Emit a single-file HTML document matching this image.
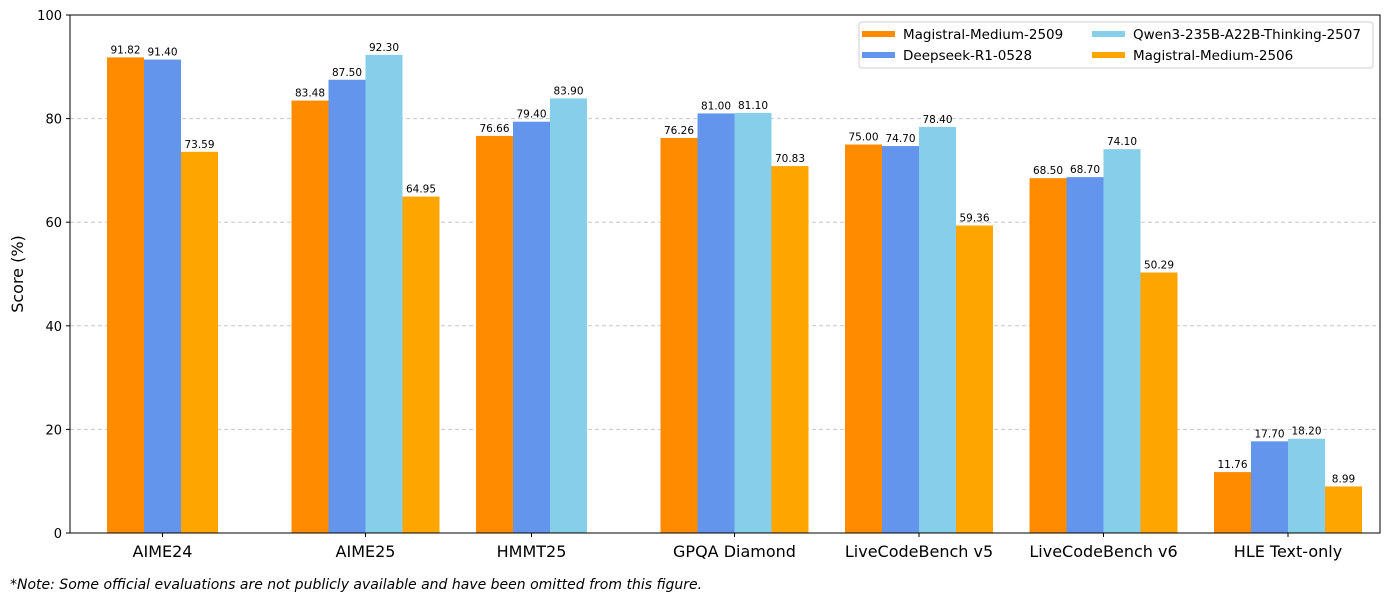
<!DOCTYPE html>
<html><head><meta charset="utf-8"><style>
body{margin:0;background:#fff;font-family:"Liberation Sans","DejaVu Sans",sans-serif}
svg text{font-family:"DejaVu Sans","Liberation Sans",sans-serif}
</style></head><body>
<svg id="c" width="1389" height="601" xmlns="http://www.w3.org/2000/svg"></svg>
<script>
const categories=["AIME24","AIME25","HMMT25","GPQA Diamond","LiveCodeBench v5","LiveCodeBench v6","HLE Text-only"];
const seriesNames=["Magistral-Medium-2509","Deepseek-R1-0528","Qwen3-235B-A22B-Thinking-2507","Magistral-Medium-2506"];
const mm2509=[91.82,83.48,76.66,76.26,75.00,68.50,11.76];
const dsr1=[91.40,87.50,79.40,81.00,74.70,68.70,17.70];
const qwen=[null,92.30,83.90,81.10,78.40,74.10,18.20];
const mm2506=[73.59,64.95,null,70.83,59.36,50.29,8.99];
const yTicks=[0,20,40,60,80,100];
const colors=["#ff8c00","#6495ed","#87ceeb","#ffa500"];
const NS="http://www.w3.org/2000/svg",svg=document.getElementById('c');
const L=70,R=1380,T=15,B=533,bw=37,gap=184.5,g0=107;
const y=v=>B-(v/100)*(B-T);
function el(t,a,p){const e=document.createElementNS(NS,t);for(const k in a)e.setAttribute(k,a[k]);(p||svg).appendChild(e);return e;}
yTicks.forEach(v=>{
 if(v>0&&v<100){const g=el('line',{x1:L,x2:R,y1:y(v),y2:y(v),stroke:'#c8c8c8','stroke-dasharray':'4,3','stroke-width':1});
 
 }
 const tk=el('line',{x1:L-4,x2:L,y1:y(v),y2:y(v),stroke:'#000'});
 
 
 const t=el('text',{x:L-8,y:y(v)+5,'text-anchor':'end','font-size':13});t.textContent=v;
 
 
});
const all=[mm2509,dsr1,qwen,mm2506];
categories.forEach((c,i)=>{
 let x=g0+i*gap,xs=[];
 all.forEach((s,si)=>{
  const v=s[i]; if(v==null)return;
  const r=el('rect',{x:x,y:y(v),width:bw,height:B-y(v),fill:colors[si]});
  
  
  const t=el('text',{x:x+bw/2,y:y(v)-4,'text-anchor':'middle','font-size':10.5});t.textContent=v.toFixed(2);
  
  
  xs.push(x+bw/2);x+=bw;
 });
 const cx=xs.reduce((a,b)=>a+b,0)/xs.length;
 const tk=el('line',{x1:cx,x2:cx,y1:B,y2:B+4,stroke:'#000'});
 
 
 const t=el('text',{x:cx,y:B+24,'text-anchor':'middle','font-size':16});t.textContent=c;
 
 
});
const fr=el('rect',{x:L,y:T,width:R-L,height:B-T,fill:'none',stroke:'#000','stroke-width':1});


const yt=el('text',{x:0,y:0,transform:'translate(23,274) rotate(-90)','text-anchor':'middle','font-size':16});yt.textContent='Score (%)';


const lg=el('g',{});


el('rect',{x:859,y:22,width:514,height:46,rx:3,fill:'#fff','fill-opacity':0.8,stroke:'#ccc'},lg);
const pos=[[862,34],[862,55],[1092,34],[1092,55]];
seriesNames.forEach((n,i)=>{
 const[px,py]=pos[i];
 const e=el('g',{},lg);
 
 
 el('rect',{x:px,y:py-3,width:33,height:6,fill:colors[i]},e);
 const t=el('text',{x:px+41,y:py+5,'font-size':13.5},e);t.textContent=n;
});
const note=el('text',{x:10,y:589,'font-size':14,'font-style':'italic'});note.textContent='*Note: Some official evaluations are not publicly available and have been omitted from this figure.';


</script>
</body></html>
